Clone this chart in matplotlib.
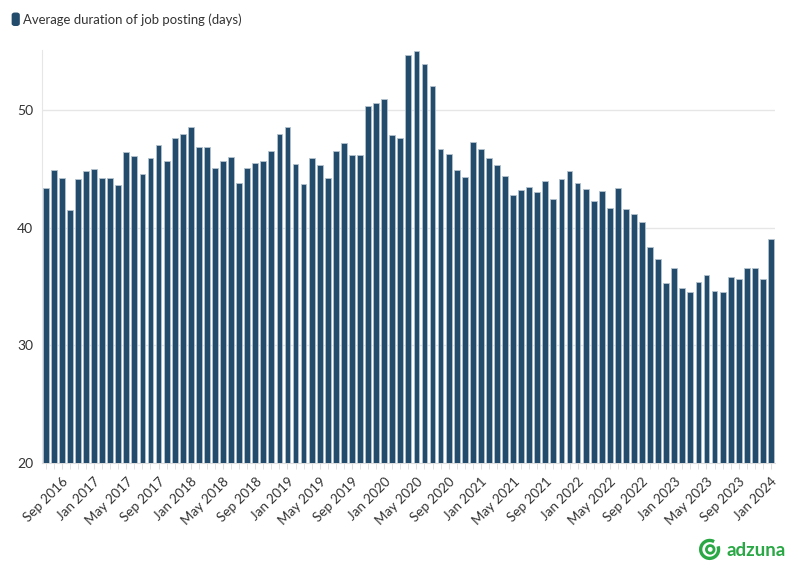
import matplotlib.pyplot as plt
import numpy as np
from matplotlib.patches import Arc, Circle, FancyBboxPatch

plt.rcParams['font.family'] = ['Lato', 'DejaVu Sans']

# monthly values, Jul 2016 .. Jan 2024
start_year, start_month = 2016, 7
durations = [
    43.4, 44.9, 44.2, 41.5, 44.1, 44.8, 45.0, 44.2, 44.2, 43.6, 46.4, 46.1,
    44.6, 45.9, 47.0, 45.7, 47.6, 48.0, 48.6, 46.9, 46.9, 45.1, 45.7, 46.0,
    43.8, 45.1, 45.5, 45.7, 46.5, 48.0, 48.6, 45.4, 43.7, 45.9, 45.3, 44.2,
    46.5, 47.2, 46.2, 46.2, 50.3, 50.6, 50.9, 47.9, 47.6, 54.7, 55.0, 53.9,
    52.0, 46.7, 46.3, 44.9, 44.3, 47.3, 46.7, 45.9, 45.3, 44.4, 42.8, 43.2,
    43.5, 43.0, 44.0, 42.4, 44.1, 44.8, 43.8, 43.3, 42.3, 43.1, 41.7, 43.4,
    41.6, 41.2, 40.5, 38.4, 37.3, 35.3, 36.6, 34.9, 34.5, 35.4, 36.0, 34.6,
    34.5, 35.8, 35.6, 36.6, 36.6, 35.6, 39.0,
]
month_names = ['Jan', 'Feb', 'Mar', 'Apr', 'May', 'Jun',
               'Jul', 'Aug', 'Sep', 'Oct', 'Nov', 'Dec']
y_ticks = [20, 30, 40, 50]
series_name = 'Average duration of job posting (days)'

BAR = '#234b6b'
TXT = '#333333'
GRID = '#e6e6e6'

labels = []
for i in range(len(durations)):
    m = start_month - 1 + i
    labels.append(f"{month_names[m % 12]} {start_year + m // 12}")

fig = plt.figure(figsize=(7.96, 5.75), dpi=100)
ax = fig.add_axes([0.0524, 0.1948, 0.9212, 0.7182])

x = np.arange(len(durations))
ax.bar(x, durations, width=0.72, color=BAR, edgecolor='#b3c2ce',
       linewidth=0.6, zorder=3)

ax.set_xlim(-0.5, len(durations) - 0.5)
ax.set_ylim(20, 55.1)
ax.set_yticks(y_ticks)
ax.yaxis.grid(True, color=GRID, linewidth=1, zorder=0)
ax.tick_params(axis='y', length=0, labelsize=10, labelcolor=TXT, pad=6)

label_pos = x[2::4]
ax.set_xticks(label_pos)
ax.set_xticklabels([labels[i] for i in label_pos], rotation=45,
                   ha='right', rotation_mode='anchor', fontsize=9.7,
                   color=TXT)
ax.set_xticks(x, minor=True)
ax.tick_params(axis='x', which='both', length=4, color='#dddddd', pad=5)

for side in ['top', 'right']:
    ax.spines[side].set_visible(False)
ax.spines['left'].set_color(GRID)
ax.spines['bottom'].set_color('#dddddd')

# legend
fig.patches.append(FancyBboxPatch((0.0155, 0.956), 0.0085, 0.021,
                                  boxstyle='round,pad=0,rounding_size=0.003',
                                  transform=fig.transFigure, color=BAR))
fig.text(0.029, 0.966, series_name, fontsize=9.45, color=TXT, va='center')

# adzuna logo
GREEN = '#2aa845'
lax = fig.add_axes([0.8765, 0.0235, 0.03, 0.042])
lax.set_xlim(-1, 1)
lax.set_ylim(-1, 1)
lax.set_aspect('equal')
lax.axis('off')
lax.add_patch(Arc((0, 0), 1.5, 1.5, theta1=60, theta2=380, color=GREEN,
                  linewidth=2.4))
lax.add_patch(Circle((0.05, 0), 0.32, fill=False, edgecolor=GREEN,
                     linewidth=2.0))
fig.text(0.9125, 0.043, 'adzuna', fontsize=13.5, fontweight='bold',
         color=GREEN, va='center')

plt.savefig('out.png', dpi=100)
